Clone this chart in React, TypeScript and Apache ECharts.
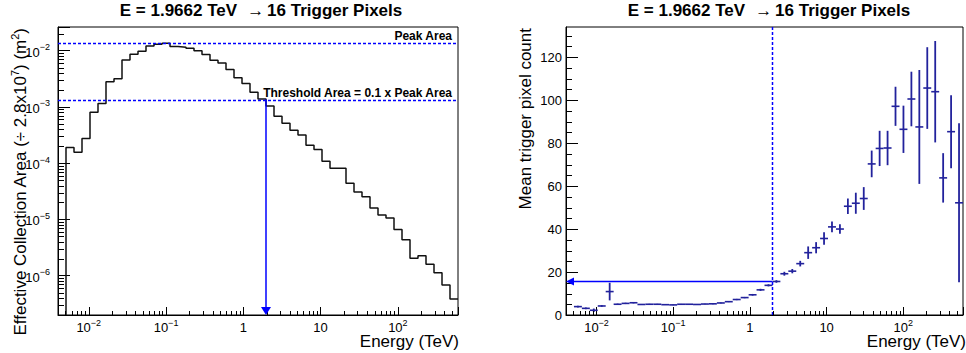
import React, { useEffect, useRef } from 'react';
import * as echarts from 'echarts';

const FONT = '"Liberation Sans", Arial, Helvetica, sans-serif';
const BLUE = '#0000ff';
const POINT_COLOR = '#22229c';

// ---- Titles / labels ----
const TITLE_ENERGY = 'E = 1.9662 TeV';
const TITLE_PIXELS = '16 Trigger Pixels';
const X_TITLE = 'Energy (TeV)';
const LEFT_Y_TITLE_PARTS = ['Effective Collection Area (÷ 2.8x10', '7', ') (m', '2', ')'];
const RIGHT_Y_TITLE = 'Mean trigger pixel count';
const AREA_LINE_LABELS = ['Peak Area', 'Threshold Area = 0.1 x Peak Area'];

// ---- Binning (log-uniform histogram) ----
const E_MIN = 0.004;
const E_MAX = 600;
const N_BINS = 50;

// ---- Axis ranges ----
const AREA_Y_MIN = 2e-7;
const AREA_Y_MAX = 0.0263;
const COUNT_Y_MAX = 134;

// ---- Tick labels ----
const xMajorTicks = [0.01, 0.1, 1, 10, 100];
const xTickLabels = [['10', '−2'], ['10', '−1'], ['1', ''], ['10', ''], ['10', '2']];
const areaMajorTicks = [1e-6, 1e-5, 1e-4, 1e-3, 1e-2];
const areaTickLabels = [['10', '−6'], ['10', '−5'], ['10', '−4'], ['10', '−3'], ['10', '−2']];
const logMinorMultipliers = [2, 3, 4, 5, 6, 7, 8, 9];
const logDecades = [-7, -6, -5, -4, -3, -2, -1, 0, 1, 2];
const countMinorTicks = [5, 10, 15, 25, 30, 35, 45, 50, 55, 65, 70, 75, 85, 90, 95, 105, 110, 115, 125, 130];

// ---- Data: effective collection area per energy bin (bin 0 empty) ----
const areaValues = [
  0, 1.89e-4, 1.56e-4, 2.73e-4, 8.0e-4, 1.15e-3, 2.8e-3, 3.17e-3, 6.84e-3, 8.6e-3,
  9.75e-3, 1.21e-2, 1.30e-2, 1.35e-2, 1.18e-2, 1.15e-2, 1.10e-2, 1.0e-2, 8.5e-3, 6.75e-3,
  6.0e-3, 4.6e-3, 3.3e-3, 2.6e-3, 1.82e-3, 1.38e-3, 1.04e-3, 6.8e-4, 5.1e-4, 3.84e-4,
  3.17e-4, 2.08e-4, 1.74e-4, 1.08e-4, 8.1e-5, 8.1e-5, 4.38e-5, 3.08e-5, 2.54e-5, 1.6e-5,
  1.2e-5, 1.06e-5, 6.6e-6, 4.35e-6, 2.03e-6, 2.27e-6, 1.59e-6, 1.13e-6, 6.8e-7, 3.85e-7,
];

// ---- Data: mean trigger pixel count per energy bin (bin 0 empty) ----
const trigValues = [
  null, 3.9, 3.1, 2.2, 4.2, 10.9, 5.0, 5.4, 5.7, 4.9,
  5.0, 5.0, 4.8, 4.7, 5.0, 5.0, 4.9, 5.1, 5.2, 5.6,
  6.2, 7.2, 8.1, 9.4, 11.7, 13.8, 15.6, 19.2, 20.4, 23.9,
  29.0, 31.3, 35.6, 41.0, 40.0, 50.6, 52.0, 54.2, 70.3, 77.5,
  77.7, 97.1, 86.4, 100.5, 87.5, 105.6, 103.9, 63.8, 85.3, 52.2,
];
const trigErrors = [
  0, 0.4, 0.4, 0.8, 0.4, 4.1, 0.3, 0.3, 0.3, 0.2,
  0.2, 0.2, 0.15, 0.15, 0.15, 0.15, 0.15, 0.15, 0.2, 0.2,
  0.2, 0.3, 0.3, 0.4, 0.5, 0.5, 0.6, 0.9, 1.0, 1.3,
  2.9, 2.6, 2.9, 2.5, 2.2, 3.6, 4.9, 5.3, 6.2, 8.2,
  8.0, 9.1, 11.0, 12.7, 26.5, 19.0, 23.6, 11.5, 17.0, 37.0,
];

const binEdges = Array.from({ length: N_BINS + 1 }, (_, k) => E_MIN * Math.pow(E_MAX / E_MIN, k / N_BINS));

const supLabel = (pair: string[]) => (pair[1] ? `{b|${pair[0]}}{s|${pair[1]}}` : `{b|${pair[0]}}`);
const makeFormatter = (ticks: number[], labels: string[][]) => (v: number) => {
  for (let i = 0; i < ticks.length; i++) {
    if (Math.abs(Math.log10(v) - Math.log10(ticks[i])) < 1e-6) return supLabel(labels[i]);
  }
  return '';
};
const labelRich = {
  b: { fontSize: 13, fontFamily: FONT, color: '#000', padding: [3, 0, 0, 0], verticalAlign: 'bottom' },
  s: { fontSize: 9, fontFamily: FONT, color: '#000', padding: [0, 0, 7, 0], verticalAlign: 'bottom' },
};

function logMinorValues(lo: number, hi: number) {
  const out: number[] = [];
  logDecades.forEach((d) => {
    logMinorMultipliers.forEach((m) => {
      const v = m * Math.pow(10, d);
      if (v > lo && v < hi) out.push(v);
    });
  });
  return out;
}

function tickSeries(gridIdx: number, dim: 'x' | 'y', values: number[], ref: number, len: number) {
  return {
    type: 'custom',
    xAxisIndex: gridIdx,
    yAxisIndex: gridIdx,
    silent: true,
    clip: false,
    z: 5,
    data: values.map((v) => (dim === 'x' ? [v, ref] : [ref, v])),
    renderItem: (params: any, api: any) => {
      const cs = params.coordSys;
      const p = api.coord([api.value(0), api.value(1)]);
      if (dim === 'x') {
        const x = Math.round(p[0]) + 0.5;
        const yb = cs.y + cs.height;
        return { type: 'line', shape: { x1: x, y1: yb, x2: x, y2: yb - len }, style: { stroke: '#000', lineWidth: 1 } };
      }
      const y = Math.round(p[1]) + 0.5;
      return { type: 'line', shape: { x1: cs.x, y1: y, x2: cs.x + len, y2: y }, style: { stroke: '#000', lineWidth: 1 } };
    },
  };
}

export default function App() {
  const ref = useRef<HTMLDivElement>(null);

  useEffect(() => {
    if (!ref.current) return;
    const chart = echarts.init(ref.current, undefined, { renderer: 'svg' });

    // histogram outline (step line from bin edges)
    const firstBin = areaValues.findIndex((v) => v > 0);
    const histData: number[][] = [[binEdges[firstBin], AREA_Y_MIN]];
    for (let k = firstBin; k < N_BINS; k++) histData.push([binEdges[k], areaValues[k]]);
    histData.push([binEdges[N_BINS], areaValues[N_BINS - 1]]);

    const peak = Math.max(...areaValues);
    const peakBin = areaValues.indexOf(peak);
    const threshold = 0.1 * peak;
    let thrBin = peakBin;
    while (thrBin < N_BINS && areaValues[thrBin] >= threshold) thrBin++;
    const thresholdE = binEdges[thrBin];
    const trigAtThr = trigValues[thrBin] as number;

    const errData: number[][] = [];
    trigValues.forEach((v, k) => {
      if (v === null) return;
      errData.push([Math.sqrt(binEdges[k] * binEdges[k + 1]), v, trigErrors[k], binEdges[k], binEdges[k + 1]]);
    });

    const xMinor = logMinorValues(E_MIN, E_MAX);
    const yMinor = logMinorValues(AREA_Y_MIN, AREA_Y_MAX);

    const logXAxis = (gridIndex: number) => ({
      type: 'log',
      gridIndex,
      min: E_MIN,
      max: E_MAX,
      logBase: 10,
      axisLine: { show: true, lineStyle: { color: '#000', width: 1 } },
      axisTick: { show: true, inside: true, length: 8, lineStyle: { color: '#000', width: 1 } },
      axisLabel: { margin: 3, formatter: makeFormatter(xMajorTicks, xTickLabels), rich: labelRich },
      splitLine: { show: false },
      minorTick: { show: false },
    });

    const option: any = {
      animation: false,
      textStyle: { fontFamily: FONT },
      title: [0, 1].map((i) => ({
        text: `{b|${TITLE_ENERGY}}{a|→}{b|${TITLE_PIXELS}}`,
        left: i === 0 ? 261 : 769,
        top: 2,
        padding: 0,
        textAlign: 'center',
        textStyle: {
          rich: {
            b: { fontSize: 17, fontWeight: 'bold', fontFamily: FONT, color: '#000' },
            a: { fontSize: 17, fontWeight: 'normal', fontFamily: FONT, color: '#000', padding: [0, 3, 0, 10] },
          },
        },
      })),
      grid: [
        { left: 58, top: 27, width: 400, height: 288, show: true, borderColor: '#000', borderWidth: 1, backgroundColor: 'transparent' },
        { left: 566, top: 27, width: 401, height: 288, show: true, borderColor: '#000', borderWidth: 1, backgroundColor: 'transparent' },
      ],
      xAxis: [logXAxis(0), logXAxis(1)],
      yAxis: [
        {
          type: 'log',
          gridIndex: 0,
          min: AREA_Y_MIN,
          max: AREA_Y_MAX,
          logBase: 10,
          axisLine: { show: true, lineStyle: { color: '#000', width: 1 } },
          axisTick: { show: true, inside: true, length: 12, lineStyle: { color: '#000', width: 1 } },
          axisLabel: { margin: 8, formatter: makeFormatter(areaMajorTicks, areaTickLabels), rich: labelRich },
          splitLine: { show: false },
        },
        {
          type: 'value',
          gridIndex: 1,
          min: 0,
          max: COUNT_Y_MAX,
          interval: 20,
          axisLine: { show: true, lineStyle: { color: '#000', width: 1 } },
          axisTick: { show: true, inside: true, length: 12, lineStyle: { color: '#000', width: 1 } },
          axisLabel: { margin: 4, fontSize: 13, color: '#000', fontFamily: FONT, showMaxLabel: false },
          splitLine: { show: false },
        },
      ],
      series: [
        {
          type: 'line',
          xAxisIndex: 0,
          yAxisIndex: 0,
          data: histData,
          step: 'end',
          symbol: 'none',
          lineStyle: { color: '#111', width: 1.5 },
          z: 3,
        },
        // peak / threshold reference lines (dashed) with their labels
        {
          type: 'custom',
          xAxisIndex: 0,
          yAxisIndex: 0,
          silent: true,
          clip: false,
          z: 7,
          data: [[E_MIN, peak], [E_MIN, threshold]],
          renderItem: (params: any, api: any) => {
            const cs = params.coordSys;
            const y = Math.round(api.coord([api.value(0), api.value(1)])[1]) + 0.5;
            return {
              type: 'group',
              children: [
                {
                  type: 'polyline',
                  shape: { points: [[cs.x, y], [cs.x + cs.width, y]] },
                  style: { stroke: BLUE, fill: null, lineWidth: 1.5, lineDash: [3, 2] },
                },
                {
                  type: 'text',
                  x: cs.x + cs.width - 6,
                  y: y - 2,
                  style: { text: AREA_LINE_LABELS[params.dataIndex], align: 'right', verticalAlign: 'bottom', fontSize: 12, fontWeight: 'bold', fontFamily: FONT, fill: '#000' },
                },
              ],
            };
          },
        },
        {
          type: 'custom',
          xAxisIndex: 0,
          yAxisIndex: 0,
          silent: true,
          clip: false,
          z: 6,
          data: [[thresholdE, threshold]],
          renderItem: (params: any, api: any) => {
            const top = api.coord([api.value(0), api.value(1)]);
            const bot = api.coord([api.value(0), AREA_Y_MIN]);
            const hl = 8;
            const hw = 5;
            return {
              type: 'group',
              children: [
                { type: 'line', shape: { x1: top[0], y1: top[1], x2: bot[0], y2: bot[1] - hl }, style: { stroke: BLUE, lineWidth: 1.5 } },
                { type: 'polygon', shape: { points: [[bot[0] - hw, bot[1] - hl], [bot[0] + hw, bot[1] - hl], [bot[0], bot[1]]] }, style: { fill: BLUE } },
              ],
            };
          },
        },
        tickSeries(0, 'x', xMinor, AREA_Y_MIN, 4),
        tickSeries(0, 'y', yMinor, E_MIN, 6),
        {
          type: 'custom',
          xAxisIndex: 1,
          yAxisIndex: 1,
          silent: true,
          z: 4,
          data: errData,
          renderItem: (params: any, api: any) => {
            const v = api.value(1);
            const e = api.value(2);
            const lo = api.coord([api.value(3), v]);
            const hi = api.coord([api.value(4), v]);
            const c = api.coord([api.value(0), v]);
            const t = api.coord([api.value(0), v + e]);
            const b = api.coord([api.value(0), Math.max(0, v - e)]);
            return {
              type: 'group',
              children: [
                { type: 'line', shape: { x1: lo[0], y1: c[1], x2: hi[0], y2: c[1] }, style: { stroke: POINT_COLOR, lineWidth: 1.6 } },
                { type: 'line', shape: { x1: c[0], y1: t[1], x2: c[0], y2: b[1] }, style: { stroke: POINT_COLOR, lineWidth: 1.8 } },
              ],
            };
          },
        },
        // vertical dashed line at the threshold energy
        {
          type: 'custom',
          xAxisIndex: 1,
          yAxisIndex: 1,
          silent: true,
          clip: false,
          z: 5,
          data: [[thresholdE, 0]],
          renderItem: (params: any, api: any) => {
            const cs = params.coordSys;
            const x = Math.round(api.coord([api.value(0), api.value(1)])[0]) + 0.5;
            return { type: 'polyline', shape: { points: [[x, cs.y], [x, cs.y + cs.height]] }, style: { stroke: BLUE, fill: null, lineWidth: 1.5, lineDash: [3, 2] } };
          },
        },
        {
          type: 'custom',
          xAxisIndex: 1,
          yAxisIndex: 1,
          silent: true,
          clip: false,
          z: 6,
          data: [[thresholdE, trigAtThr]],
          renderItem: (params: any, api: any) => {
            const s = api.coord([api.value(0), api.value(1)]);
            const e = api.coord([E_MIN, api.value(1)]);
            const hl = 8;
            const hw = 4;
            return {
              type: 'group',
              children: [
                { type: 'line', shape: { x1: s[0], y1: s[1], x2: e[0] + hl, y2: e[1] }, style: { stroke: BLUE, lineWidth: 1.5 } },
                { type: 'polygon', shape: { points: [[e[0] + hl, e[1] - hw], [e[0] + hl, e[1] + hw], [e[0], e[1]]] }, style: { fill: BLUE } },
              ],
            };
          },
        },
        tickSeries(1, 'x', xMinor, 0, 4),
        tickSeries(1, 'y', countMinorTicks, E_MIN, 6),
      ],
      graphic: [
        {
          type: 'text',
          x: 18,
          y: 28,
          rotation: Math.PI / 2,
          style: {
            text: `{n|${LEFT_Y_TITLE_PARTS[0]}}{s|${LEFT_Y_TITLE_PARTS[1]}}{n|${LEFT_Y_TITLE_PARTS[2]}}{s|${LEFT_Y_TITLE_PARTS[3]}}{n|${LEFT_Y_TITLE_PARTS[4]}}`,
            align: 'right',
            verticalAlign: 'middle',
            rich: {
              n: { fontSize: 17, fontFamily: FONT, fill: '#000', padding: [5, 0, 0, 0], verticalAlign: 'bottom' },
              s: { fontSize: 11, fontFamily: FONT, fill: '#000', padding: [0, 0, 9, 0], verticalAlign: 'bottom' },
            },
          },
        },
        {
          type: 'text',
          x: 525,
          y: 28,
          rotation: Math.PI / 2,
          style: { text: RIGHT_Y_TITLE, align: 'right', verticalAlign: 'middle', fontSize: 17, fontFamily: FONT, fill: '#000' },
        },
        {
          type: 'text',
          x: 459,
          y: 341,
          style: { text: X_TITLE, align: 'right', verticalAlign: 'middle', fontSize: 17, fontFamily: FONT, fill: '#000' },
        },
        {
          type: 'text',
          x: 966,
          y: 341,
          style: { text: X_TITLE, align: 'right', verticalAlign: 'middle', fontSize: 17, fontFamily: FONT, fill: '#000' },
        },
      ],
    };

    chart.setOption(option);
    return () => chart.dispose();
  }, []);

  return (
    <div
      ref={ref}
      style={{ position: 'absolute', left: 0, top: 0, width: 966, height: 353, background: '#fff' }}
    />
  );
}
